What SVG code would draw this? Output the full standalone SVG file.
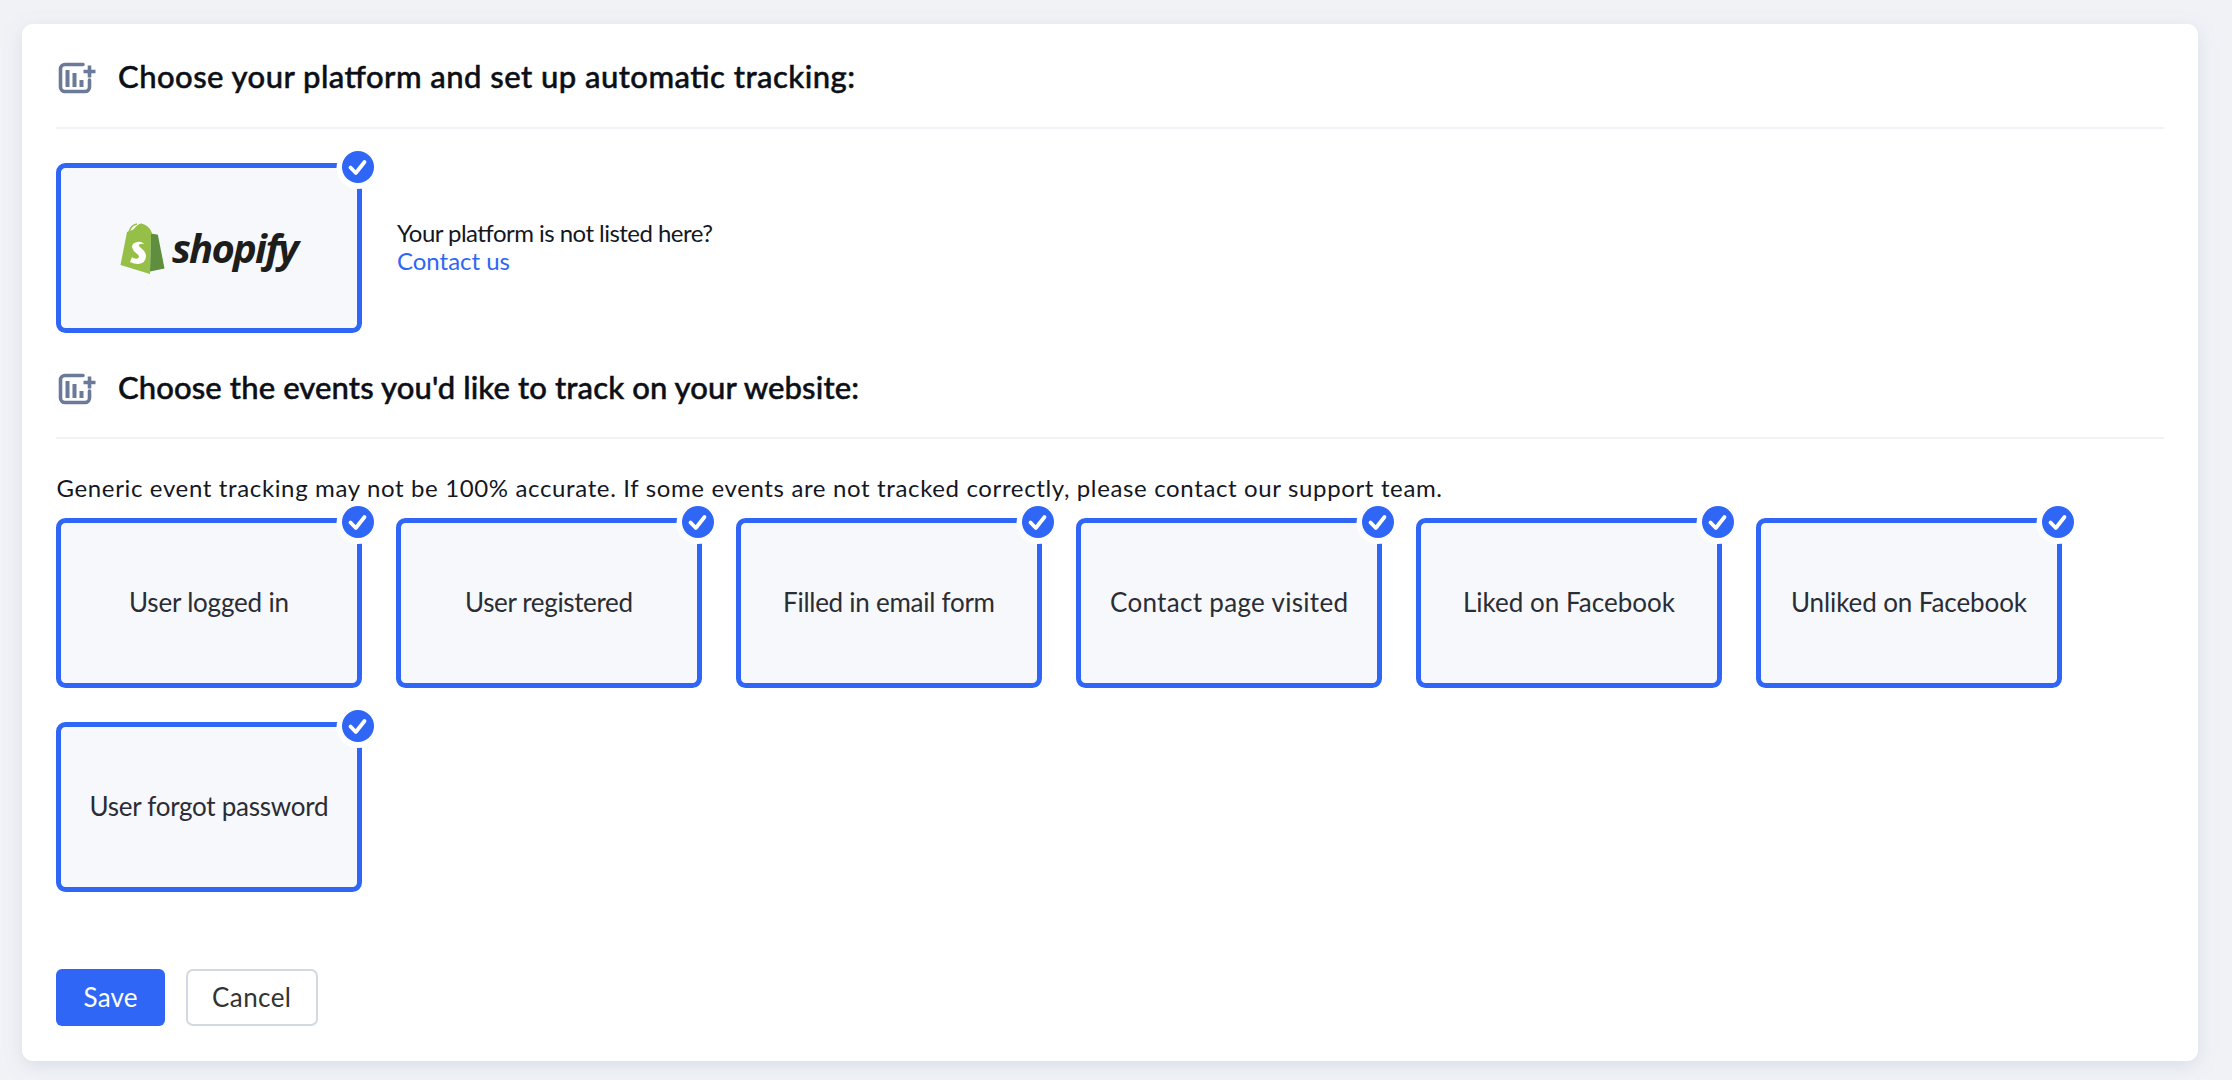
<svg xmlns="http://www.w3.org/2000/svg" width="2232" height="1080" viewBox="0 0 2232 1080">
<style>
text{font-family:"Lato","Noto Sans",sans-serif;fill:#14171f}
.h{font-size:31px;font-weight:500;fill:#0c0f16;stroke:#0c0f16;stroke-width:.5px}
.b{font-size:24px;font-weight:400}
.l{font-size:26px;text-anchor:middle;fill:#2a2d33}
.tile{fill:#f7f8fc;stroke:#2f66f6;stroke-width:5}
.ic{fill:none;stroke:#6b7a99;stroke-width:3.600;stroke-linecap:round}
</style>
<defs>
<filter id="sh" x="-3%" y="-6%" width="106%" height="112%"><feDropShadow dx="0" dy="5" stdDeviation="9" flood-color="#8a94aa" flood-opacity=".22"/></filter>
<g id="icon"><path class="ic" d="M83 64.500H65a4.500 4.500 0 0 0-4.500 4.500V87a4.500 4.500 0 0 0 4.500 4.500H85a4.500 4.500 0 0 0 4.500-4.500V80"/><path class="ic" style="stroke-linecap:butt;stroke-width:4" d="M67.500 70V87M74.500 73V87M81.500 80V87"/><path class="ic" style="stroke-linecap:butt" d="M89.500 65.500V77.500M83.500 71.500H95.500"/></g>
<g id="tile"><rect class="tile" x="58.500" y="165.500" width="301" height="165" rx="7"/><circle cx="357.500" cy="168" r="21" fill="#fff"/><circle cx="358" cy="167" r="16" fill="#2f66f6"/><path d="M350.500 167.500l5.300 5.500 8.700-11" fill="none" stroke="#fff" stroke-width="3.800" stroke-linecap="round" stroke-linejoin="round"/></g>
</defs>
<rect width="2232" height="1080" fill="#f0f2f6"/>
<rect id="card" x="22" y="24" width="2176" height="1037" rx="11" fill="#fff" filter="url(#sh)"/>
<g id="heading-platform"><use href="#icon"/><text class="h" x="118" y="88" textLength="737">Choose your platform and set up automatic tracking:</text><rect x="56" y="127" width="2108" height="2" fill="#f1f2f5"/></g>
<g id="tile-shopify"><use href="#tile"/>
<path d="M120.500 265l6.500-33q4-1 7-3q6-8 13-3q4 3 5 7l-1 1-1 40z" fill="#95bf47"/><path d="M151 233.500l6 1q1 0 1 1l6.500 33-14.500 3z" fill="#5e8e3e"/><path d="M129 232q2-7 8-8M136 230q1-5 6-6M146 229q-1-4-4-4" fill="none" stroke="#95bf47" stroke-width="1.600"/><path d="M143 243q-3-2-6-1q-5 1-5 5q1 4 4 6q3 2 3 4q-1 3-6 1l-1-1-2 5q4 2 8 2q8-1 8-8q0-4-5-8q-3-2-2-3q1-2 5-1z" fill="#fff"/>
<text x="172" y="263" textLength="127" style="font-family:'Open Sans',sans-serif;font-style:italic;font-weight:700;font-size:40px;fill:#1d1d1b">shopify</text></g>
<g id="platform-note"><text class="b" x="397" y="242" textLength="316">Your platform is not listed here?</text><text class="b" x="397" y="270" textLength="113" style="fill:#2f66f6">Contact us</text></g>
<g id="heading-events"><use href="#icon" y="311"/><text class="h" x="118" y="399" textLength="741">Choose the events you'd like to track on your website:</text><rect x="56" y="437" width="2108" height="2" fill="#f1f2f5"/></g>
<text id="note" class="b" x="56.500" y="497" textLength="1385.500">Generic event tracking may not be 100% accurate. If some events are not tracked correctly, please contact our support team.</text>
<g id="event-1"><use href="#tile" y="355"/><text class="l" x="209" y="612" textLength="160">User logged in</text></g>
<g id="event-2"><use href="#tile" x="340" y="355"/><text class="l" x="549" y="612" textLength="168">User registered</text></g>
<g id="event-3"><use href="#tile" x="680" y="355"/><text class="l" x="889" y="612" textLength="212">Filled in email form</text></g>
<g id="event-4"><use href="#tile" x="1020" y="355"/><text class="l" x="1229" y="612" textLength="238">Contact page visited</text></g>
<g id="event-5"><use href="#tile" x="1360" y="355"/><text class="l" x="1569" y="612" textLength="212">Liked on Facebook</text></g>
<g id="event-6"><use href="#tile" x="1700" y="355"/><text class="l" x="1909" y="612" textLength="236">Unliked on Facebook</text></g>
<g id="event-7"><use href="#tile" y="559"/><text class="l" x="209" y="816" textLength="239">User forgot password</text></g>
<g id="btn-save"><rect x="56" y="969" width="109" height="57" rx="6" fill="#2f66f6"/><text class="l" x="110.500" y="1007" textLength="54" style="fill:#fff">Save</text></g>
<g id="btn-cancel"><rect x="187" y="970" width="130" height="55" rx="6" fill="#fff" stroke="#d3d9e0" stroke-width="2"/><text class="l" x="251.500" y="1007" textLength="79" style="fill:#333">Cancel</text></g>
</svg>
